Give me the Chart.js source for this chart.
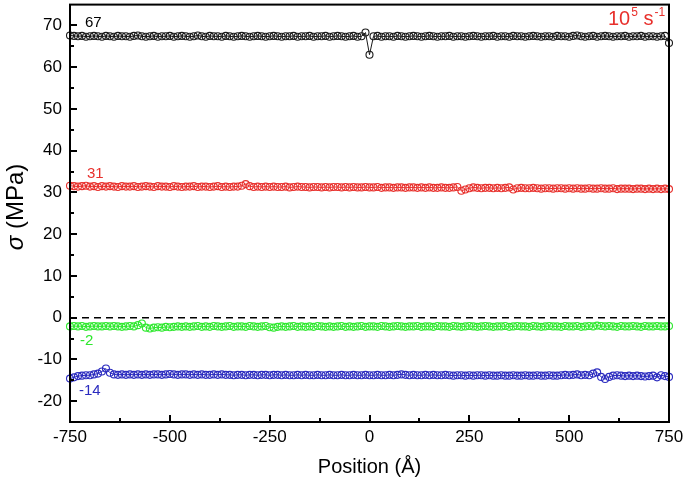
<!DOCTYPE html>
<html>
<head>
<meta charset="utf-8">
<script src="https://cdn.jsdelivr.net/npm/chart.js@4"></script>
<style>
	html, body { margin: 0; padding: 0; background: #fff; }
	#wrap { width: 685px; height: 479px; }
</style>
</head>
<body>
<div id="wrap"><canvas id="main_chart" width="685" height="479"></canvas></div>
<script>
// positions along the sample (Å)
const positions = [
	-750,-740,-730,-720,-710,-700,-690,-680,-670,-660,
	-650,-640,-630,-620,-610,-600,-590,-580,-570,-560,
	-550,-540,-530,-520,-510,-500,-490,-480,-470,-460,
	-450,-440,-430,-420,-410,-400,-390,-380,-370,-360,
	-350,-340,-330,-320,-310,-300,-290,-280,-270,-260,
	-250,-240,-230,-220,-210,-200,-190,-180,-170,-160,
	-150,-140,-130,-120,-110,-100,-90,-80,-70,-60,
	-50,-40,-30,-20,-10,0,10,20,30,40,
	50,60,70,80,90,100,110,120,130,140,
	150,160,170,180,190,200,210,220,230,240,
	250,260,270,280,290,300,310,320,330,340,
	350,360,370,380,390,400,410,420,430,440,
	450,460,470,480,490,500,510,520,530,540,
	550,560,570,580,590,600,610,620,630,640,
	650,660,670,680,690,700,710,720,730,740,
	750
]

// stress profiles (MPa)
const stress67 = [
	67.6,67.5,67.4,67.5,67.3,67.4,67.5,67.4,67.3,67.5,
	67.4,67.3,67.5,67.4,67.4,67.3,67.5,67.6,67.4,67.3,
	67.4,67.5,67.3,67.4,67.4,67.5,67.3,67.4,67.5,67.4,
	67.3,67.4,67.6,67.4,67.3,67.5,67.4,67.4,67.3,67.5,
	67.4,67.3,67.4,67.5,67.4,67.3,67.4,67.5,67.4,67.3,
	67.4,67.5,67.4,67.3,67.4,67.4,67.5,67.3,67.4,67.4,
	67.5,67.3,67.4,67.4,67.5,67.3,67.4,67.5,67.4,67.3,
	67.4,67.5,67.3,67.4,68.3,63.0,67.4,67.5,67.3,67.4,
	67.4,67.3,67.5,67.4,67.3,67.4,67.5,67.4,67.3,67.4,
	67.5,67.4,67.3,67.4,67.4,67.5,67.3,67.4,67.4,67.3,
	67.4,67.5,67.4,67.3,67.4,67.4,67.5,67.3,67.4,67.4,
	67.3,67.5,67.4,67.4,67.3,67.4,67.5,67.4,67.3,67.4,
	67.4,67.3,67.5,67.4,67.4,67.3,67.5,67.6,67.4,67.3,
	67.4,67.5,67.3,67.4,67.5,67.4,67.3,67.4,67.4,67.5,
	67.3,67.4,67.4,67.5,67.3,67.4,67.4,67.3,67.4,67.5,
	65.8
]
const stress31 = [
	31.6,31.5,31.4,31.5,31.6,31.4,31.5,31.3,31.5,31.4,
	31.5,31.4,31.3,31.5,31.4,31.4,31.5,31.3,31.4,31.5,
	31.4,31.3,31.5,31.4,31.4,31.3,31.5,31.4,31.3,31.4,
	31.4,31.5,31.3,31.4,31.4,31.3,31.4,31.5,31.3,31.4,
	31.3,31.4,31.4,31.6,32.0,31.5,31.3,31.4,31.3,31.4,
	31.3,31.4,31.3,31.3,31.4,31.2,31.3,31.4,31.3,31.3,
	31.2,31.3,31.3,31.2,31.3,31.2,31.3,31.3,31.2,31.3,
	31.2,31.3,31.2,31.2,31.3,31.2,31.2,31.3,31.1,31.2,
	31.2,31.1,31.2,31.2,31.1,31.2,31.2,31.1,31.2,31.1,
	31.2,31.1,31.1,31.2,31.1,31.1,31.2,31.3,30.4,30.7,
	31.0,31.2,31.1,31.0,31.1,31.1,31.0,31.1,31.0,31.1,
	31.2,30.7,31.0,31.1,31.0,31.0,31.1,31.0,30.9,31.0,
	31.0,30.9,31.0,31.0,30.9,31.0,30.9,31.0,30.9,30.9,
	31.0,30.9,30.9,31.0,30.9,30.9,31.0,30.8,30.9,30.9,
	30.9,30.8,30.9,30.9,30.8,30.9,30.8,30.9,30.8,30.9,
	30.8
]
const stressNeg2 = [
	-2.1,-2.0,-2.1,-2.0,-2.2,-2.1,-2.0,-2.1,-2.1,-2.0,
	-2.1,-2.0,-2.1,-2.2,-2.1,-2.0,-2.1,-1.8,-1.4,-2.4,
	-2.6,-2.4,-2.3,-2.4,-2.2,-2.3,-2.2,-2.1,-2.2,-2.1,
	-2.2,-2.1,-2.0,-2.2,-2.1,-2.2,-2.0,-2.1,-2.2,-2.1,
	-2.0,-2.2,-2.1,-2.1,-2.2,-2.0,-2.1,-2.2,-2.1,-2.0,
	-2.3,-2.4,-2.2,-2.1,-2.2,-2.1,-2.0,-2.2,-2.1,-2.2,
	-2.1,-2.2,-2.0,-2.1,-2.2,-2.1,-2.2,-2.1,-2.0,-2.2,
	-2.1,-2.2,-2.1,-2.0,-2.2,-2.1,-2.1,-2.2,-2.0,-2.1,
	-2.2,-2.1,-2.0,-2.1,-2.2,-2.1,-2.1,-2.0,-2.2,-2.1,
	-2.1,-2.2,-2.0,-2.1,-2.1,-2.2,-2.0,-2.1,-2.2,-2.1,
	-2.0,-2.1,-2.2,-2.1,-2.0,-2.1,-2.2,-2.1,-2.1,-2.0,
	-2.2,-2.1,-2.0,-2.1,-2.1,-2.2,-2.0,-2.1,-2.2,-2.1,
	-2.0,-2.1,-2.1,-2.2,-2.0,-2.1,-2.1,-2.0,-2.2,-2.1,
	-2.0,-2.1,-1.9,-2.0,-2.1,-2.0,-2.1,-2.2,-2.0,-2.1,
	-2.1,-2.0,-2.1,-2.2,-2.0,-2.1,-2.1,-2.0,-2.1,-2.1,
	-2.0
]
const stressNeg14 = [
	-14.6,-14.3,-14.0,-13.9,-13.8,-13.8,-13.6,-13.4,-12.9,-12.2,
	-13.2,-13.6,-13.7,-13.6,-13.7,-13.6,-13.7,-13.6,-13.7,-13.6,
	-13.7,-13.6,-13.6,-13.7,-13.6,-13.5,-13.6,-13.7,-13.6,-13.6,
	-13.7,-13.6,-13.7,-13.6,-13.7,-13.7,-13.6,-13.7,-13.6,-13.7,
	-13.7,-13.8,-13.7,-13.7,-13.8,-13.7,-13.7,-13.8,-13.7,-13.7,
	-13.8,-13.7,-13.7,-13.8,-13.7,-13.8,-13.8,-13.7,-13.8,-13.7,
	-13.8,-13.8,-13.7,-13.8,-13.8,-13.7,-13.8,-13.8,-13.7,-13.8,
	-13.8,-13.7,-13.8,-13.8,-13.7,-13.8,-13.8,-13.7,-13.8,-13.8,
	-13.7,-13.8,-13.7,-13.6,-13.7,-13.8,-13.7,-13.8,-13.8,-13.7,
	-13.8,-13.7,-13.8,-13.8,-13.7,-13.8,-13.9,-13.8,-13.8,-13.9,
	-13.8,-13.9,-13.8,-13.8,-13.9,-13.8,-13.9,-13.9,-13.8,-13.9,
	-13.9,-13.8,-13.9,-13.9,-13.8,-13.9,-13.9,-13.8,-13.9,-13.9,
	-13.8,-13.9,-13.9,-13.8,-13.7,-13.8,-13.7,-13.6,-13.8,-13.7,
	-13.8,-13.4,-13.1,-14.2,-14.7,-14.2,-13.9,-13.8,-13.9,-14.0,
	-13.9,-14.0,-13.9,-14.0,-14.1,-14.0,-13.9,-14.3,-13.8,-14.0,
	-14.2
]

// zero reference line
const zeroLineX = [-750, 750]
const zeroLineY = [0, 0]

// series labels
const seriesLabels = ['67', '31', '-2', '-14']
const rateLabel = ['10', '5', ' s', '-1']

const FONT = '"Liberation Sans", Arial, sans-serif'

function toPoints(xs, ys) {
	return xs.map((x, i) => ({ x: x, y: ys[i] }))
}

function series(label, values, color) {
	return {
		label: label,
		data: toPoints(positions, values),
		borderColor: color,
		backgroundColor: 'rgba(0,0,0,0)',
		borderWidth: 1,
		pointRadius: 3.5,
		pointBorderWidth: 1.1,
		pointBorderColor: color,
		pointBackgroundColor: 'rgba(0,0,0,0)',
		pointHoverRadius: 3.5,
		tension: 0,
		clip: false,
	}
}

// frame, inward ticks, annotations and the y title
const decorations = {
	id: 'decorations',
	afterDatasetsDraw(chart) {
		const ctx = chart.ctx
		const { left, right, top, bottom } = chart.chartArea
		const xs = chart.scales.x
		const ys = chart.scales.y
		ctx.save()
		ctx.strokeStyle = '#000'
		ctx.lineWidth = 2
		ctx.strokeRect(left, top, right - left, bottom - top)
		// y ticks
		ys.ticks.forEach(t => {
			if (t.value <= ys.min || t.value >= ys.max) return
			const y = Math.round(ys.getPixelForValue(t.value))
			const len = t.value % 10 === 0 ? 7 : 4
			ctx.beginPath()
			ctx.moveTo(left, y)
			ctx.lineTo(left + len, y)
			ctx.stroke()
		})
		// x ticks
		xs.ticks.forEach(t => {
			if (t.value <= xs.min || t.value >= xs.max) return
			const x = Math.round(xs.getPixelForValue(t.value))
			const len = t.value % 250 === 0 ? 7 : 4
			ctx.beginPath()
			ctx.moveTo(x, bottom)
			ctx.lineTo(x, bottom - len)
			ctx.stroke()
		})
		ctx.restore()
	},
	afterDraw(chart) {
		const ctx = chart.ctx
		ctx.save()
		ctx.textBaseline = 'alphabetic'
		ctx.textAlign = 'left'
		ctx.font = `15px ${FONT}`
		ctx.fillStyle = '#000'
		ctx.fillText(seriesLabels[0], 85, 27)
		ctx.fillStyle = '#e8302c'
		ctx.fillText(seriesLabels[1], 87, 178)
		ctx.fillStyle = '#2ee82e'
		ctx.fillText(seriesLabels[2], 80, 345)
		ctx.fillStyle = '#2b2bbf'
		ctx.fillText(seriesLabels[3], 79, 395)

		// strain rate label
		ctx.fillStyle = '#e8302c'
		let x = 608
		ctx.font = `20px ${FONT}`
		ctx.fillText(rateLabel[0], x, 25)
		x += ctx.measureText(rateLabel[0]).width + 1
		ctx.font = `12px ${FONT}`
		ctx.fillText(rateLabel[1], x, 16)
		x += ctx.measureText(rateLabel[1]).width
		ctx.font = `20px ${FONT}`
		ctx.fillText(rateLabel[2], x, 25)
		x += ctx.measureText(rateLabel[2]).width + 1
		ctx.font = `12px ${FONT}`
		ctx.fillText(rateLabel[3], x, 16)

		// y axis title with italic sigma
		ctx.translate(16, 207)
		ctx.rotate(-Math.PI / 2)
		ctx.fillStyle = '#000'
		ctx.textBaseline = 'middle'
		ctx.font = `italic 24px ${FONT}`
		const w1 = ctx.measureText('σ').width
		ctx.font = `24px ${FONT}`
		const w2 = ctx.measureText(' (MPa)').width
		let start = -(w1 + w2) / 2
		ctx.font = `italic 24px ${FONT}`
		ctx.fillText('σ', start, 0)
		ctx.font = `24px ${FONT}`
		ctx.fillText(' (MPa)', start + w1, 0)
		ctx.restore()
	},
}

const ctx = document.getElementById('main_chart')

new Chart(ctx, {
	type: 'line',
	data: {
		datasets: [
			{
				label: 'zero',
				data: toPoints(zeroLineX, zeroLineY),
				borderColor: '#000',
				borderWidth: 1.5,
				borderDash: [7, 5],
				pointRadius: 0,
				fill: false,
			},
			series('67 MPa', stress67, '#1a1a1a'),
			series('31 MPa', stress31, '#e8302c'),
			series('-2 MPa', stressNeg2, '#2ee82e'),
			series('-14 MPa', stressNeg14, '#2b2bbf'),
		],
	},
	plugins: [decorations],
	options: {
		responsive: false,
		animation: false,
		events: [],
		layout: {
			padding: { left: 0, right: 16, top: 3, bottom: 0 },
		},
		plugins: {
			legend: false,
			tooltip: { enabled: false },
		},
		scales: {
			x: {
				type: 'linear',
				min: -750,
				max: 750,
				afterFit: scale => {
					scale.height = 57
					scale.paddingLeft = 0
					scale.paddingRight = 0
				},
				grid: { display: false, drawTicks: false },
				border: { display: false },
				ticks: {
					stepSize: 125,
					padding: 5,
					maxRotation: 0,
					autoSkip: false,
					color: '#000',
					font: { family: FONT, size: 17 },
					callback: v => (v % 250 === 0 ? String(v) : ''),
				},
				title: {
					display: true,
					text: 'Position (Å)',
					color: '#000',
					font: { family: FONT, size: 20 },
					padding: { top: 0, bottom: 0 },
				},
			},
			y: {
				min: -25,
				max: 75,
				afterFit: scale => {
					scale.width = 70
					scale.paddingTop = 0
					scale.paddingBottom = 0
				},
				grid: { display: false, drawTicks: false },
				border: { display: false },
				ticks: {
					stepSize: 5,
					padding: 8,
					autoSkip: false,
					color: '#000',
					font: { family: FONT, size: 17 },
					callback: v => (v % 10 === 0 && v >= -20 && v <= 70 ? String(v) : ''),
				},
			},
		},
	},
})
</script>
</body>
</html>
